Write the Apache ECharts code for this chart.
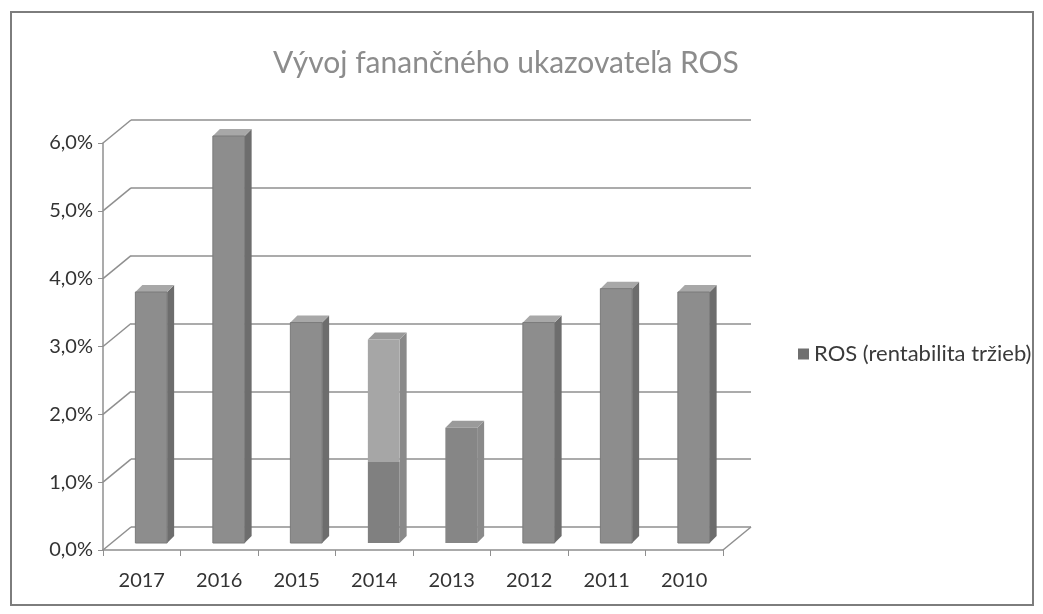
<!DOCTYPE html>
<html>
<head>
<meta charset="utf-8">
<script src="https://cdn.jsdelivr.net/npm/echarts@6/dist/echarts.min.js"></script>
<style>
  html, body { margin: 0; padding: 0; background: #fff; }
  #chart { width: 1043px; height: 614px; }
</style>
</head>
<body>
<div id="chart"></div>
<script>
// data
var years = ['2017', '2016', '2015', '2014', '2013', '2012', '2011', '2010'];
var rosValues = [3.7, 6.0, 3.25, 3.0, 1.7, 3.25, 3.75, 3.7];
var yTicks = [0, 1, 2, 3, 4, 5, 6];
var seriesName = 'ROS (rentabilita tržieb)';

var FONT = 'Lato, "Open Sans", sans-serif';
var DEPTH_X = 28, DEPTH_Y = -23;   // offset front -> back wall

function fmtPct(v) {
  return v.toFixed(1).replace('.', ',') + '%';
}

// scan look of the two middle bars
function frontFill(i) {
  if (years[i] === '2014') {
    return new echarts.graphic.LinearGradient(0, 0, 0, 1, [
      { offset: 0, color: '#a6a6a6' }, { offset: 0.6, color: '#a6a6a6' },
      { offset: 0.6, color: '#808080' }, { offset: 1, color: '#808080' }
    ]);
  }
  if (years[i] === '2013') return '#868686';
  return '#8d8d8d';
}

function renderBar(params, api) {
  var i = api.value(0), v = api.value(1);
  var base = api.coord([i, 0]);
  var top = api.coord([i, v]);
  var band = api.size([1, 0])[0];
  var w = band * 0.41;
  var ox = 9.5, oy = -7, dx = 7, dy = -7;
  var x0 = base[0] + ox - w / 2, x1 = x0 + w;
  var yb = base[1] + oy, yt = top[1] + oy;
  var flat = years[i] === '2014' || years[i] === '2013';
  return {
    type: 'group',
    children: [
      { type: 'polygon', shape: { points: [[x1, yt], [x1 + dx, yt + dy], [x1 + dx, yb + dy], [x1, yb]] },
        style: { fill: flat ? '#8a8a8a' : '#6d6d6d' } },
      { type: 'polygon', shape: { points: [[x0, yt], [x0 + dx, yt + dy], [x1 + dx, yt + dy], [x1, yt]] },
        style: { fill: flat ? '#9a9a9a' : '#a8a8a8' } },
      { type: 'rect', shape: { x: x0, y: yt, width: w, height: yb - yt },
        style: { fill: frontFill(i), stroke: flat ? null : '#7a7a7a', lineWidth: 1 } }
    ]
  };
}

// diagonal connectors from the front axis to the back wall, plus right floor edge
function renderWall(params, api) {
  var v = api.value(0);
  var cs = params.coordSys;
  var y = api.coord([0, v])[1];
  var lineStyle = { stroke: '#8f8f8f', lineWidth: 1.5 };
  var kids = [
    { type: 'line', shape: { x1: cs.x, y1: y, x2: cs.x + DEPTH_X, y2: y + DEPTH_Y }, style: lineStyle }
  ];
  if (v === 0) {
    kids.push({ type: 'line', shape: { x1: cs.x + cs.width, y1: y, x2: cs.x + cs.width + DEPTH_X, y2: y + DEPTH_Y }, style: lineStyle });
  }
  return { type: 'group', children: kids };
}

var chart = echarts.init(document.getElementById('chart'));
var option = {
  backgroundColor: '#fff',
  animation: false,
  title: {
    text: 'Vývoj fanančného ukazovateľa ROS',
    left: 501,
    top: 43,
    textAlign: 'center',
    textStyle: { color: '#8c8c8c', fontSize: 30, fontWeight: 'normal', fontFamily: FONT }
  },
  legend: {
    data: [seriesName],
    left: 793,
    top: 338,
    icon: 'rect',
    itemWidth: 11,
    itemHeight: 11,
    itemGap: 6,
    textStyle: { color: '#3a3a3a', fontSize: 22, fontFamily: FONT }
  },
  graphic: [
    { type: 'rect', shape: { x: 11, y: 12, width: 1022, height: 593 },
      style: { fill: 'none', stroke: '#7d7d7d', lineWidth: 2 }, silent: true }
  ],
  grid: [
    { left: 103, top: 143, width: 620, height: 407 },
    { left: 103 + DEPTH_X, top: 143 + DEPTH_Y, width: 620, height: 407 }
  ],
  xAxis: [
    {
      type: 'category', gridIndex: 0, data: years,
      axisLine: { show: true, lineStyle: { color: '#8f8f8f', width: 1.5 } },
      axisTick: { show: true, length: 6, lineStyle: { color: '#8f8f8f' } },
      axisLabel: { color: '#333', fontSize: 20, fontFamily: FONT, margin: 21 },
      splitLine: { show: false }
    },
    {
      type: 'category', gridIndex: 1, data: years,
      axisLine: { show: false }, axisTick: { show: false }, axisLabel: { show: false },
      splitLine: { show: false }
    }
  ],
  yAxis: [
    {
      type: 'value', gridIndex: 0, min: 0, max: 6, interval: 1,
      axisLine: { show: true, lineStyle: { color: '#8f8f8f', width: 1.5 } },
      axisTick: { show: true, length: 5, lineStyle: { color: '#8f8f8f' } },
      axisLabel: { color: '#333', fontSize: 20, fontFamily: FONT, margin: 10, formatter: fmtPct },
      splitLine: { show: false }
    },
    {
      type: 'value', gridIndex: 1, min: 0, max: 6, interval: 1,
      axisLine: { show: false }, axisTick: { show: false }, axisLabel: { show: false },
      splitLine: { show: true, lineStyle: { color: '#8f8f8f', width: 1.5 } }
    }
  ],
  series: [
    {
      type: 'custom',
      name: 'wall',
      xAxisIndex: 0, yAxisIndex: 0,
      renderItem: renderWall,
      data: yTicks.map(function (t) { return [t]; }),
      encode: { y: 0 },
      silent: true,
      z: 1
    },
    {
      type: 'custom',
      name: seriesName,
      xAxisIndex: 0, yAxisIndex: 0,
      itemStyle: { color: '#6f6f6f' },
      renderItem: renderBar,
      data: rosValues.map(function (v, i) { return [i, v]; }),
      encode: { x: 0, y: 1 },
      z: 3
    }
  ]
};
chart.setOption(option);
</script>
</body>
</html>
